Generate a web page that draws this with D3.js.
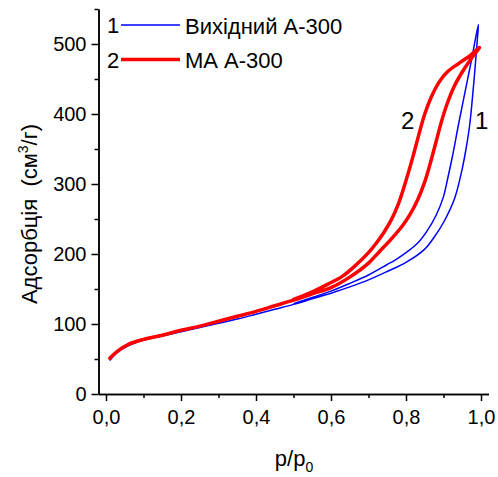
<!DOCTYPE html>
<html>
<head>
<meta charset="utf-8">
<script src="https://cdn.jsdelivr.net/npm/d3@7"></script>
<style>
  html, body { margin: 0; padding: 0; background: #fff; }
  svg { display: block; font-family: "Liberation Sans", Arial, sans-serif; }
  text { fill: #000; white-space: pre; }
</style>
</head>
<body>
<svg id="chart" width="498" height="477"></svg>
<script>
// Nitrogen isotherms: relative pressure p/p0 and adsorbed volume (cm3/g)
// Sample 1: initial A-300 (adsorption and desorption branches)
const pBlueAds = [0.01, 0.03, 0.06, 0.10, 0.15, 0.20, 0.25, 0.30, 0.35, 0.40, 0.45, 0.50, 0.55, 0.60, 0.65, 0.70, 0.75, 0.80, 0.85, 0.875, 0.90, 0.93, 0.95, 0.96, 0.97, 0.98, 0.99, 0.993];
const vBlueAds = [48, 59, 69, 77, 83, 89, 95, 101, 107, 114, 121, 128, 136, 144, 153, 163, 175, 188, 207, 224, 245, 280, 322, 350, 385, 440, 505, 528];
const pBlueDes = [0.993, 0.975, 0.958, 0.94, 0.924, 0.91, 0.90, 0.88, 0.855, 0.83, 0.80, 0.77, 0.75, 0.70, 0.65, 0.60, 0.55, 0.50];
const vBlueDes = [528, 478, 433, 385, 340, 305, 282, 255, 232, 215, 202, 191, 185, 170, 158, 147, 138, 129];

// Sample 2: MA A-300
const pRedAds = [0.01, 0.03, 0.06, 0.10, 0.15, 0.20, 0.25, 0.30, 0.35, 0.40, 0.45, 0.50, 0.55, 0.60, 0.65, 0.70, 0.73, 0.76, 0.79, 0.81, 0.83, 0.85, 0.865, 0.88, 0.895, 0.91, 0.93, 0.95, 0.975, 0.996];
const vRedAds = [51, 61, 71, 78, 84, 91, 97, 104, 111, 118, 126, 134, 143, 152, 167, 187, 204, 221, 240, 256, 276, 303, 330, 360, 390, 415, 441, 460, 480, 495];
const pRedDes = [0.996, 0.97, 0.94, 0.91, 0.89, 0.868, 0.85, 0.835, 0.82, 0.80, 0.78, 0.76, 0.74, 0.72, 0.70, 0.664, 0.63, 0.592, 0.55, 0.50];
const vRedDes = [495, 483, 472, 460, 447, 425, 400, 372, 342, 305, 272, 248, 230, 215, 202, 183, 168, 157, 146, 135];

// Axis ticks
const xMajor = [0, 0.2, 0.4, 0.6, 0.8, 1.0];
const xMinor = [0.1, 0.3, 0.5, 0.7, 0.9];
const yMajor = [0, 100, 200, 300, 400, 500];
const yMinor = [50, 150, 250, 350, 450, 550];

// Legend entries and curve labels
const seriesNames = ["Вихідний А-300", "МА А-300"];
const seriesNums = ["1", "2"];

const svg = d3.select("#chart");

const x = d3.scaleLinear().domain([-0.02, 1.02]).range([98.5, 488.5]);
const y = d3.scaleLinear().domain([0, 550]).range([394, 9]);

const fmt = d => d3.format(".1f")(d).replace(".", ",");

// x axis: minor then major ticks
const gxMinor = svg.append("g").attr("transform", `translate(0,${y(0)})`)
  .call(d3.axisBottom(x).tickValues(xMinor).tickSize(4).tickSizeOuter(0).tickFormat(""));
const gx = svg.append("g").attr("transform", `translate(0,${y(0)})`)
  .call(d3.axisBottom(x).tickValues(xMajor).tickSize(7).tickSizeOuter(0).tickPadding(9).tickFormat(fmt));

// y axis
const gyMinor = svg.append("g").attr("transform", `translate(${x(-0.02)},0)`)
  .call(d3.axisLeft(y).tickValues(yMinor).tickSize(4).tickSizeOuter(0).tickFormat(""));
const gy = svg.append("g").attr("transform", `translate(${x(-0.02)},0)`)
  .call(d3.axisLeft(y).tickValues(yMajor).tickSize(7).tickSizeOuter(0).tickPadding(5));

[gxMinor, gx, gyMinor, gy].forEach(g => {
  g.selectAll("path.domain").attr("stroke", "#000").attr("stroke-width", 1.5);
  g.selectAll(".tick line").attr("stroke", "#000").attr("stroke-width", 1.5);
  g.selectAll(".tick text").attr("font-size", 20).attr("font-family", "Liberation Sans, Arial, sans-serif").attr("fill", "#000");
});

// Isotherm curves: adsorption branch then desorption branch as one path
const line = d3.line()
  .x(d => x(d[0]))
  .y(d => y(d[1]))
  .curve(d3.curveCatmullRom.alpha(0.5));

function loop(pa, va, pd, vd) {
  const a = pa.map((p, i) => [p, va[i]]);
  const b = pd.slice(1).map((p, i) => [p, vd[i + 1]]);
  return a.concat(b);
}

svg.append("path")
  .attr("d", line(loop(pBlueAds, vBlueAds, pBlueDes, vBlueDes)))
  .attr("fill", "none").attr("stroke", "#0000ff").attr("stroke-width", 1.5)
  .attr("stroke-linejoin", "round");

svg.append("path")
  .attr("d", line(loop(pRedAds, vRedAds, pRedDes, vRedDes)))
  .attr("fill", "none").attr("stroke", "#ff0000").attr("stroke-width", 3.5)
  .attr("stroke-linejoin", "round").attr("stroke-linecap", "round");

// Legend
const legend = [
  { num: seriesNums[0], name: seriesNames[0], color: "#0000ff", w: 1.5, cy: 25 },
  { num: seriesNums[1], name: seriesNames[1], color: "#ff0000", w: 3.5, cy: 59.5 }
];
legend.forEach(l => {
  svg.append("text").attr("x", 107).attr("y", l.cy + 8).attr("font-size", 22).text(l.num);
  svg.append("line").attr("x1", 121).attr("x2", 180).attr("y1", l.cy).attr("y2", l.cy)
    .attr("stroke", l.color).attr("stroke-width", l.w);
  svg.append("text").attr("x", 185).attr("y", l.cy + 8.5).attr("font-size", 22).text(l.name);
});

// Curve labels
svg.append("text").attr("x", 401).attr("y", 129).attr("font-size", 24).text(seriesNums[1]);
svg.append("text").attr("x", 475).attr("y", 129).attr("font-size", 24).text(seriesNums[0]);

// Axis titles
const yt = svg.append("text")
  .attr("transform", "translate(37,214) rotate(-90)")
  .attr("text-anchor", "middle").attr("font-size", 22);
yt.append("tspan").text("Адсорбція  (см");
yt.append("tspan").attr("font-size", 14).attr("dy", -9).text("3");
yt.append("tspan").attr("dy", 9).text("/г)");

const xt = svg.append("text")
  .attr("x", 294).attr("y", 466)
  .attr("text-anchor", "middle").attr("font-size", 22);
xt.append("tspan").text("p/p");
xt.append("tspan").attr("font-size", 14).attr("dy", 6).text("0");
</script>
</body>
</html>
